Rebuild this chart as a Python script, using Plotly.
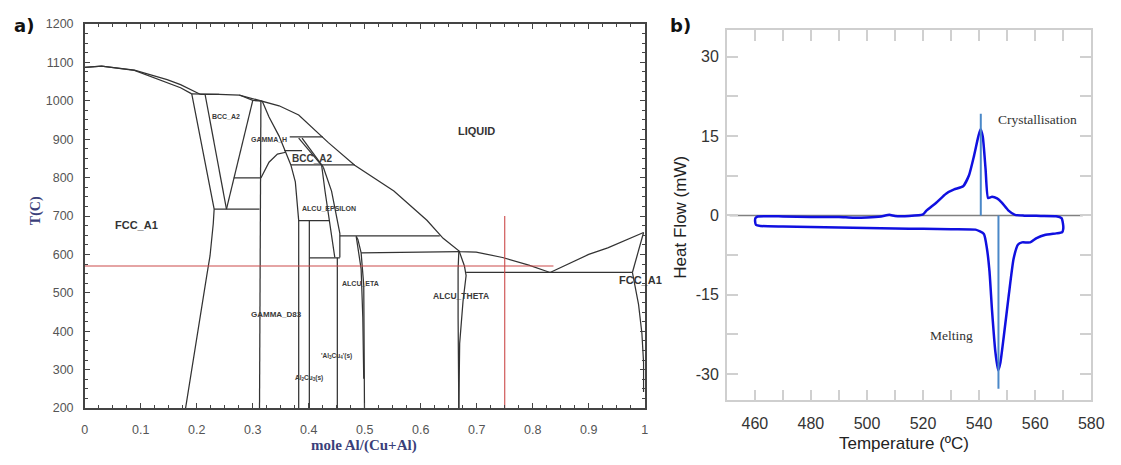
import plotly.graph_objects as go

# ---------------- Panel a) : Al-Cu phase diagram (mole Al/(Cu+Al), T in C) ----------------
liquidus_cu = [(0, 1087), (0.03, 1090), (0.0886, 1080), (0.147, 1055), (0.171, 1042), (0.206, 1017)]
solidus_cu = [(0, 1087), (0.03, 1090), (0.0886, 1079), (0.118, 1063), (0.171, 1034), (0.191, 1018)]
liquidus_main = [(0.206, 1017), (0.24, 1017), (0.276, 1015), (0.306, 1003), (0.317, 999), (0.347, 987),
                 (0.382, 963), (0.435, 891), (0.482, 832), (0.552, 765), (0.611, 689), (0.640, 642),
                 (0.670, 607), (0.699, 606), (0.746, 592), (0.793, 572), (0.831, 553)]
peritectic_top = [(0.191, 1018), (0.24, 1017)]
bcc_solidus_top = [(0.276, 1015), (0.30, 1001), (0.317, 999)]
fcc_solvus = [(0.191, 1018), (0.231, 718), (0.2294, 680), (0.2236, 596), (0.2178, 545), (0.206, 436), (0.180, 200)]
bcc_left = [(0.2148, 1017), (0.253, 718)]
bcc_right = [(0.30, 1001), (0.253, 718)]
eutectoid = [(0.231, 718), (0.312, 718)]
gamma_left = [(0.3145, 999), (0.312, 200)]
iso_799 = [(0.266, 799), (0.3145, 799)]
gamma_dome = [(0.3145, 799), (0.329, 840), (0.344, 861), (0.359, 866)]
gamma_right = [(0.317, 999), (0.329, 958), (0.347, 908), (0.359, 866), (0.368, 833), (0.376, 789),
               (0.379, 739), (0.382, 688), (0.382, 200)]
iso_906 = [(0.366, 906), (0.425, 906)]
iso_870 = [(0.356, 870), (0.388, 870)]
bcc2_left_a = [(0.382, 903), (0.423, 832)]
bcc2_left_b = [(0.388, 903), (0.426, 827)]
iso_833 = [(0.368, 833), (0.482, 833)]
eps_left = [(0.423, 832), (0.429, 765), (0.4465, 592)]
eps_right = [(0.426, 827), (0.4407, 765), (0.4555, 655), (0.4555, 592)]
iso_688 = [(0.382, 688), (0.437, 688)]
al2cu3_line = [(0.401, 688), (0.401, 200)]
iso_591 = [(0.401, 591), (0.4555, 591)]
al3cu4_line = [(0.451, 591), (0.451, 200)]
iso_648 = [(0.4555, 648), (0.634, 648)]
eta_left = [(0.4847, 647), (0.4935, 562), (0.4965, 436), (0.4982, 276)]
eta_right = [(0.4847, 647), (0.4877, 639), (0.4935, 604), (0.4982, 520), (0.4995, 200)]
iso_604 = [(0.4935, 604), (0.670, 607)]
theta_left = [(0.668, 607), (0.6667, 562), (0.6667, 436), (0.668, 200)]
theta_right = [(0.669, 607), (0.678, 570), (0.681, 545), (0.6755, 478), (0.6695, 368), (0.668, 200)]
eutectic = [(0.681, 553), (0.978, 553)]
liquidus_al = [(0.831, 553), (0.90, 600), (0.934, 617), (0.998, 657)]
solidus_al = [(0.998, 657), (0.978, 553)]
solvus_al = [(0.978, 553), (0.989, 470), (0.995, 394), (0.998, 318), (0.998, 242)]

phase_lines = [liquidus_cu, solidus_cu, liquidus_main, peritectic_top, bcc_solidus_top, fcc_solvus,
               bcc_left, bcc_right, eutectoid, gamma_left, iso_799, gamma_dome, gamma_right, iso_906,
               iso_870, bcc2_left_a, bcc2_left_b, iso_833, eps_left, eps_right, iso_688, al2cu3_line,
               iso_591, al3cu4_line, iso_648, eta_left, eta_right, iso_604, theta_left, theta_right,
               eutectic, liquidus_al, solidus_al, solvus_al]

red_T = 570            # horizontal reference temperature
red_T_xmax = 0.837
red_x = 0.75           # vertical reference composition
red_x_Tmax = 700

phase_labels = [("BCC_A2", 0.252, 959, 7), ("GAMMA_H", 0.329, 899, 7), ("BCC_A2", 0.406, 849, 10),
                ("ALCU_EPSILON", 0.4366, 719, 7), ("ALCU_ETA", 0.493, 525, 7), ("ALCU_THETA", 0.6725, 493, 8.5),
                ("GAMMA_D83", 0.3415, 444, 8), ("'Al<sub>3</sub>Cu<sub>4</sub>'(s)", 0.449, 335, 6.5),
                ("Al<sub>2</sub>Cu<sub>3</sub>(s)", 0.401, 279, 6.5)]
phase_labels_big = [("FCC_A1", 0.093, 676), ("LIQUID", 0.70, 921), ("FCC_A1", 0.9924, 533)]

# ---------------- Panel b) : DSC curve ----------------
cool_T = [460.2, 461, 470, 480, 490, 495, 500, 505, 508, 510, 515, 520, 521.2, 524.7, 528.2, 531.1,
          534.3, 536.4, 538.2, 539.7, 540.5, 541.3, 542.3, 543.2, 544.6, 546.4, 548.1, 550.5, 552.8,
          556, 562, 567.5, 569.4, 569.9]
cool_HF = [-0.5, -0.2, -0.2, -0.3, -0.3, -0.45, -0.4, -0.2, 0.1, -0.1, -0.1, 0.2, 0.9, 2.4, 4.1, 4.9,
           5.5, 7.6, 11.3, 14.9, 16.3, 14.9, 8.8, 3.3, 3.5, 3.2, 2.4, 0.9, 0.1,
           -0.05, -0.1, -0.15, -0.5, -1.5]
heat_T = [570, 569.6, 567.5, 563.4, 560.5, 558.2, 555.3, 553.9, 552.3, 550.6, 548.8, 547.6, 546.8,
          545.8, 544.6, 543.7, 542.8, 541.7, 538.7, 530, 520, 510, 500, 490, 480, 470, 462, 460.4, 460.1, 460.2]
heat_HF = [-2.6, -3.2, -3.4, -3.7, -4.3, -5.1, -5.1, -5.5, -8.2, -15.0, -22.9, -27.8, -29.3,
           -25.8, -17.9, -10.6, -6.3, -3.5, -2.7, -2.6, -2.55, -2.5, -2.4, -2.3, -2.2, -2.1, -2.0, -1.8, -1.2, -0.5]
baseline_T = [451, 577]
baseline_HF = [0, 0]
cryst_T, cryst_top = 540.6, 19.2
melt_T, melt_bottom = 546.9, -32.8

dsc_yticks = [-30, -15, 0, 15, 30]
dsc_yticklabels = ["-30", "-15", "0", "15", "30"]

# ---------------- build ----------------
def segments(lines):
    xs, ys = [], []
    for line in lines:
        for a, b in line:
            xs.append(a)
            ys.append(b)
        xs.append(None)
        ys.append(None)
    return xs, ys

fig = go.Figure()
px_, py_ = segments(phase_lines)
fig.add_trace(go.Scatter(x=px_, y=py_, mode="lines", line=dict(color="#333333", width=1.25),
                         xaxis="x", yaxis="y", hoverinfo="skip", showlegend=False))
fig.add_trace(go.Scatter(x=[0, red_T_xmax, None, red_x, red_x], y=[red_T, red_T, None, 200, red_x_Tmax],
                         mode="lines", line=dict(color="#cc4a4a", width=1.1),
                         xaxis="x", yaxis="y", showlegend=False))

fig.add_trace(go.Scatter(x=baseline_T, y=baseline_HF, mode="lines", line=dict(color="#808080", width=1.5),
                         xaxis="x2", yaxis="y2", showlegend=False))
fig.add_trace(go.Scatter(x=cool_T + heat_T, y=cool_HF + heat_HF, mode="lines",
                         line=dict(color="#1010e0", width=2.5, shape="spline", smoothing=0.5),
                         xaxis="x2", yaxis="y2", showlegend=False))
fig.add_trace(go.Scatter(x=[cryst_T, cryst_T, None, melt_T, melt_T], y=[0, cryst_top, None, 0, melt_bottom],
                         mode="lines", line=dict(color="#4a88c8", width=2),
                         xaxis="x2", yaxis="y2", showlegend=False))

W, H = 1121, 465
sans = "Liberation Sans"
serif = "Liberation Serif"

def paper_text(px, py, text, font, angle=0):
    return dict(x=px / W, y=1 - py / H, xref="paper", yref="paper", text=text, textangle=angle,
                xanchor="center", yanchor="middle", showarrow=False, font=font)

annotations = []
for txt, x, y, s in phase_labels:
    annotations.append(dict(x=x, y=y, xref="x", yref="y", text="<b>" + txt + "</b>", showarrow=False,
                            xanchor="center", yanchor="middle",
                            font=dict(family=sans, size=s, color="#3a3a3a")))
for txt, x, y in phase_labels_big:
    annotations.append(dict(x=x, y=y, xref="x", yref="y", text="<b>" + txt + "</b>", showarrow=False,
                            xanchor="center", yanchor="middle",
                            font=dict(family=sans, size=11, color="#333333")))
annotations += [
    paper_text(33, 210, "<b>T(C)</b>", dict(family=serif, size=14, color="#3a3f7a"), -90),
    paper_text(366.5, 452, "<b>mole Al/(Cu+Al)</b>", dict(family=serif, size=15, color="#3a3f7a")),
    paper_text(687, 217, "Heat Flow (mW)", dict(family=sans, size=17, color="#222222"), -90),
    paper_text(914, 450, "Temperature (ºC)", dict(family=sans, size=17, color="#222222")),
    paper_text(21, 19, "<b>a)</b>", dict(family="DejaVu Sans", size=18, color="#111111")),
    paper_text(687, 19, "<b>b)</b>", dict(family="DejaVu Sans", size=18, color="#111111")),
    dict(x=561, y=18.1, xref="x2", yref="y2", text="Crystallisation", showarrow=False,
         xanchor="center", yanchor="middle", font=dict(family=serif, size=13.5, color="#333333")),
    dict(x=530, y=-22.7, xref="x2", yref="y2", text="Melting", showarrow=False,
         xanchor="center", yanchor="middle", font=dict(family=serif, size=13.5, color="#333333")),
]

left_axis_common = dict(showline=True, linecolor="#444444", linewidth=1.5, mirror="ticks",
                        ticks="inside", ticklen=5, tickcolor="#444444", tickwidth=1,
                        showgrid=False, zeroline=False,
                        tickfont=dict(family=sans, size=12.5, color="#555555"))
right_axis_common = dict(showline=True, linecolor="#cfcfcf", linewidth=1.5, mirror="ticks",
                         ticks="inside", ticklen=11, tickcolor="#d0d0d0", tickwidth=1.5,
                         showgrid=False, zeroline=False,
                         tickfont=dict(family=sans, size=16, color="#333333"))

fig.update_layout(
    width=W, height=H, margin=dict(l=0, r=0, t=0, b=0),
    paper_bgcolor="white", plot_bgcolor="white", showlegend=False,
    xaxis=dict(domain=[83 / W, 651 / W], range=[0, 1], dtick=0.1, tick0=0,
               minor=dict(dtick=0.025, ticks="inside", ticklen=3, tickcolor="#444444"),
               ticklabelstandoff=9, anchor="y", **left_axis_common),
    yaxis=dict(domain=[1 - 413.5 / H, 1 - 17.5 / H], range=[200, 1200], dtick=100, tick0=200,
               minor=dict(dtick=25, ticks="inside", ticklen=3, tickcolor="#444444"),
               ticklabelstandoff=7, anchor="x", **left_axis_common),
    xaxis2=dict(domain=[734.3 / W, 1104 / W], range=[450, 580], dtick=20, tick0=460,
                minor=dict(dtick=10, ticks="inside", ticklen=11, tickcolor="#d0d0d0"),
                ticklabelstandoff=8, anchor="y2", **right_axis_common),
    yaxis2=dict(domain=[1 - 405.7 / H, 1 - 24 / H], range=[-35, 35], tickvals=dsc_yticks,
                ticktext=dsc_yticklabels,
                minor=dict(dtick=7.5, tick0=0, ticks="inside", ticklen=11, tickcolor="#d0d0d0"),
                ticklabelstandoff=3, anchor="x2", **right_axis_common),
    annotations=annotations,
)

fig.write_html("out.html")
